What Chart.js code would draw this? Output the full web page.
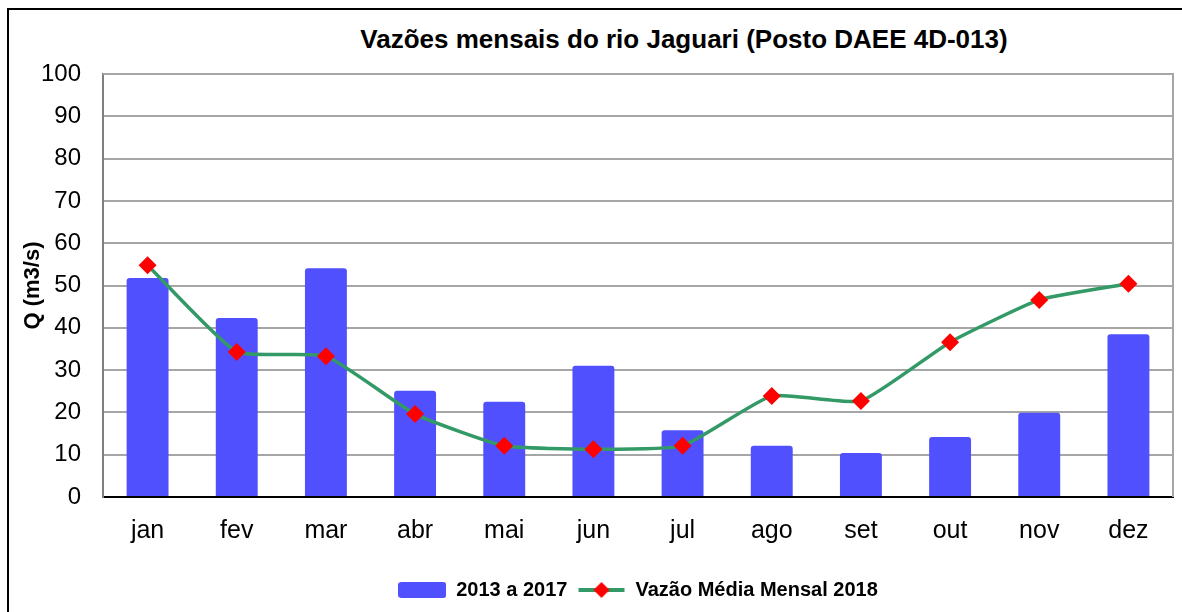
<!DOCTYPE html>
<html>
<head>
<meta charset="utf-8">
<script src="https://cdn.jsdelivr.net/npm/chart.js@4.4.1/dist/chart.umd.min.js"></script>
<style>
  html, body { margin: 0; padding: 0; background: #fff; }
  body { width: 1182px; height: 612px; position: relative; overflow: hidden; }
  #frame { position: absolute; left: 7px; top: 8px; width: 1300px; height: 700px; border: 2px solid #000; box-sizing: border-box; }
  #title { position: absolute; left: 284px; width: 800px; top: 24px; line-height: 30px; text-align: center;
           font: bold 26px "Liberation Sans", Arial, sans-serif; color: #000; white-space: nowrap; }
  #wrap { position: absolute; left: 0; top: 0; width: 1182px; height: 612px; }
</style>
</head>
<body>
<div id="frame"></div>
<div id="title">Vazões mensais do rio Jaguari (Posto DAEE 4D-013)</div>
<div id="wrap"><canvas id="c" width="1182" height="612"></canvas></div>
<script>
const categories = ["jan","fev","mar","abr","mai","jun","jul","ago","set","out","nov","dez"];
const series2013a2017 = [51.8, 42.3, 54.1, 25.1, 22.5, 31.0, 15.8, 12.1, 10.4, 14.2, 19.9, 38.5];
const series2018 = [54.8, 34.3, 33.3, 19.6, 12.1, 11.3, 12.1, 23.9, 22.7, 36.6, 46.6, 50.4];
const yTicks = [0, 10, 20, 30, 40, 50, 60, 70, 80, 90, 100];
const seriesNames = ["2013 a 2017", "Vazão Média Mensal 2018"];

const FONT = '"Liberation Sans", Arial, sans-serif';
const BAR = '#5050ff';
const LINE = '#339966';
const MARK = '#ff0000';

function barSwatch() {
  const c = document.createElement('canvas');
  c.width = 48; c.height = 18;
  const g = c.getContext('2d');
  g.fillStyle = BAR;
  g.beginPath();
  if (g.roundRect) g.roundRect(0, 1, 48, 16, 3); else g.rect(0, 1, 48, 16);
  g.fill();
  return c;
}
function lineSwatch() {
  const c = document.createElement('canvas');
  c.width = 48; c.height = 20;
  const g = c.getContext('2d');
  g.strokeStyle = LINE; g.lineWidth = 4;
  g.beginPath(); g.moveTo(1, 10); g.lineTo(47, 10); g.stroke();
  g.fillStyle = MARK;
  g.beginPath(); g.moveTo(24, 2); g.lineTo(32, 10); g.lineTo(24, 18); g.lineTo(16, 10); g.closePath(); g.fill();
  return c;
}

const framePlugin = {
  id: 'plotFrame',
  beforeDatasetsDraw(chart) {
    const a = chart.chartArea, ctx = chart.ctx;
    ctx.save();
    ctx.strokeStyle = '#a6a6a6';
    ctx.lineWidth = 2;
    ctx.beginPath();
    ctx.moveTo(a.left, a.top); ctx.lineTo(a.right, a.top); ctx.lineTo(a.right, a.bottom);
    ctx.stroke();
    ctx.restore();
  }
};

new Chart(document.getElementById('c'), {
  data: {
    labels: categories,
    datasets: [
      {
        type: 'line',
        label: seriesNames[1],
        data: series2018,
        borderColor: LINE,
        backgroundColor: MARK,
        borderWidth: 3.5,
        tension: 0.15,
        pointStyle: 'rectRot',
        pointRadius: 9,
        pointHoverRadius: 9,
        pointBackgroundColor: MARK,
        pointBorderColor: MARK,
        pointBorderWidth: 0,
        order: 0
      },
      {
        type: 'bar',
        label: seriesNames[0],
        data: series2013a2017,
        backgroundColor: BAR,
        borderRadius: { topLeft: 3, topRight: 3 },
        borderSkipped: 'bottom',
        barPercentage: 0.47,
        categoryPercentage: 1.0,
        order: 1
      }
    ]
  },
  options: {
    responsive: false,
    animation: false,
    devicePixelRatio: 1,
    layout: { padding: { left: 0, right: 9, top: 74, bottom: 2 } },
    scales: {
      x: {
        type: 'category',
        offset: true,
        grid: { display: false, drawTicks: false },
        border: { display: true, color: '#000', width: 2 },
        ticks: { color: '#000', font: { family: FONT, size: 25 }, padding: 19, maxRotation: 0 },
        afterFit(s) { s.height = 73; }
      },
      y: {
        min: 0, max: 100,
        afterBuildTicks(s) { s.ticks = yTicks.map(v => ({ value: v })); },
        grid: { color: '#a6a6a6', lineWidth: 2, drawTicks: false },
        border: { display: true, color: '#7f7f7f', width: 2 },
        ticks: { color: '#000', font: { family: FONT, size: 24 }, padding: 22 },
        title: { display: true, text: 'Q (m3/s)', color: '#000', font: { family: FONT, size: 22, weight: 'bold' }, padding: { top: 20, bottom: 0 } },
        afterFit(s) { s.width = 103; }
      }
    },
    plugins: {
      title: { display: false },
      tooltip: { enabled: false },
      legend: {
        display: true,
        position: 'bottom',
        fullSize: false,
        labels: {
          usePointStyle: true,
          pointStyleWidth: 48,
          padding: 10,
          color: '#000',
          font: { family: FONT, size: 20, weight: 'bold' },
          generateLabels(chart) {
            return [
              { text: seriesNames[0], pointStyle: barSwatch(), fillStyle: BAR, strokeStyle: BAR, lineWidth: 0, datasetIndex: 1, hidden: false },
              { text: seriesNames[1], pointStyle: lineSwatch(), fillStyle: MARK, strokeStyle: LINE, lineWidth: 0, datasetIndex: 0, hidden: false }
            ];
          }
        }
      }
    }
  },
  plugins: [framePlugin]
});
</script>
</body>
</html>
